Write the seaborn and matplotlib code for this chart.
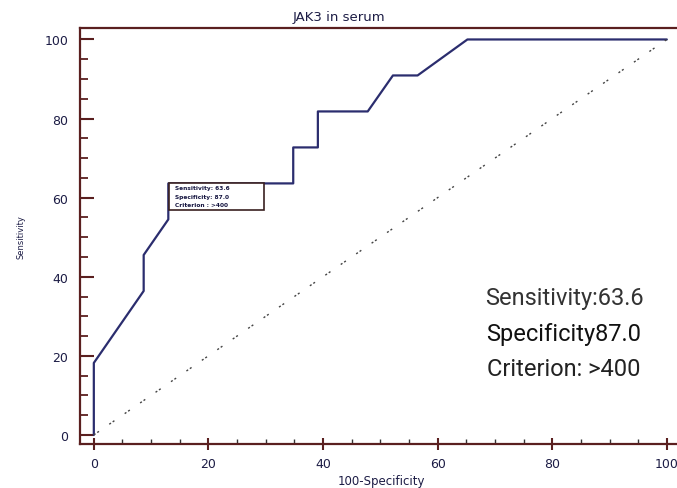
import matplotlib
matplotlib.use("Agg")
import matplotlib.pyplot as plt
import seaborn as sns
import pandas as pd
from matplotlib.ticker import MultipleLocator
from matplotlib.patches import Rectangle

# ROC curve points (100-Specificity, Sensitivity)
fpr = [0, 0, 8.7, 8.7, 13.0, 13.0, 34.8, 34.8, 39.1, 39.1, 47.8, 52.2, 56.5, 65.2, 100]
tpr = [0, 18.2, 36.4, 45.5, 54.5, 63.6, 63.6, 72.7, 72.7, 81.8, 81.8, 90.9, 90.9, 100, 100]
diag = [0, 100]

title = "JAK3 in serum"
xlabel = "100-Specificity"
ylabel = "Sensitivity"
xticks = [0, 20, 40, 60, 80, 100]
yticks = [0, 20, 40, 60, 80, 100]
box_lines = ["Sensitivity: 63.6", "Specificity: 87.0", "Criterion : >400"]
big_lines = ["Sensitivity:63.6", "Specificity87.0", "Criterion: >400"]

sns.set_style("white")
plt.rcParams['font.family'] = ['DejaVu Sans']

fig = plt.figure(figsize=(6.77, 4.89), dpi=100)
xlim = (-2.5, 103.0)
ylim = (-2.3, 102.9)
ax = fig.add_axes([79.5 / 677, 44 / 489, (xlim[1] - xlim[0]) * 5.73 / 677, 416 / 489])

spine_col = "#5a1f1f"
curve_col = "#2b2d6e"
text_col = "#1c1c45"

df = pd.DataFrame({"fpr": fpr, "tpr": tpr})
sns.lineplot(data=df, x="fpr", y="tpr", estimator=None, sort=False, ax=ax,
             color=curve_col, lw=1.6)
ax.plot(diag, diag, color="#444444", lw=1.0, linestyle=(0, (1.5, 1.5, 1.5, 9)))

ax.set_xlim(*xlim)
ax.set_ylim(*ylim)
ax.set_xticks(xticks)
ax.set_yticks(yticks)
ax.xaxis.set_minor_locator(MultipleLocator(5))
ax.yaxis.set_minor_locator(MultipleLocator(5))
ax.tick_params(axis="y", which="major", direction="in", length=10.4, width=1.5, color=spine_col,
               labelsize=9, labelcolor=text_col, pad=8, left=True)
ax.tick_params(axis="y", which="minor", direction="in", length=5.5, width=1.3, color=spine_col, left=True)
ax.tick_params(axis="x", which="major", direction="inout", length=9, width=1.5, color=spine_col,
               labelsize=9, labelcolor=text_col, pad=5, bottom=True)
ax.tick_params(axis="x", which="minor", direction="in", length=3.5, width=1.0, color="#333333", bottom=True)

for s in ["left", "bottom", "top"]:
    ax.spines[s].set_color(spine_col)
    ax.spines[s].set_linewidth(1.6)
ax.spines["right"].set_visible(False)

ax.set_xlabel(xlabel, fontsize=8.5, color=text_col, labelpad=3)
ax.set_ylabel(ylabel, fontsize=6, color=text_col, labelpad=14)
fig.text(339 / 677, 1 - 17 / 489, title, ha="center", va="center", fontsize=9.5, color=text_col)

# small criterion box
ax.add_patch(Rectangle((13.04, 57.0), 29.7 - 13.04, 63.6 - 57.0, fill=True, facecolor="white",
                       edgecolor="#3a2020", lw=1.2, zorder=5))
for i, t in enumerate(box_lines):
    ax.text(14.2, 62.6 - i * 2.2, t, fontsize=4.2, color="#151540", fontweight="bold",
            va="center", ha="left", zorder=6)

# big annotation text
big_fam = ["Liberation Sans Narrow", "Roboto", "DejaVu Sans"]
ys = [298, 335, 370]
cols = ["#333333", "#111111", "#222222"]
for t, yy, c in zip(big_lines, ys, cols):
    fig.text(564 / 677, 1 - yy / 489, t, ha="center", va="center", fontsize=17,
             family=big_fam, color=c)

fig.savefig("out.png", dpi=100, facecolor="white")
